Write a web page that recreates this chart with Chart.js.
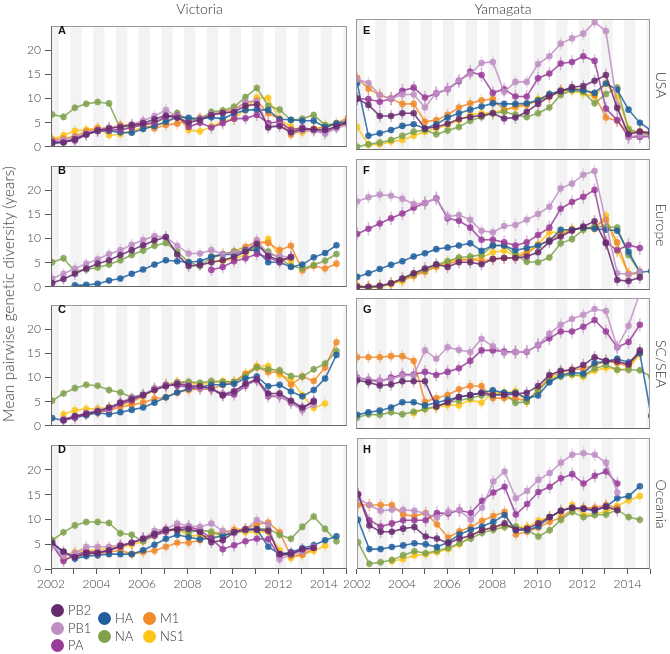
<!DOCTYPE html>
<html>
<head>
<meta charset="utf-8">
<script src="https://cdn.jsdelivr.net/npm/chart.js@4.4.0/dist/chart.umd.min.js"></script>
<style>
  body { margin: 0; background: #fff; font-family: Lato, "Liberation Sans", Arial, sans-serif; font-weight: 300; }
  #wrap { position: relative; width: 670px; height: 654px; overflow: hidden; }
  #wrap canvas { position: absolute; }
  .txt { position: absolute; white-space: nowrap; color: #333; font-weight: 300; }
  .mid { transform: translate(-50%, -50%); }
  .letter { position: absolute; font-family: "Liberation Sans", Arial, sans-serif; font-weight: bold; font-size: 11px; color: #111; }
  .lg { position: absolute; font-size: 13px; color: #333; white-space: nowrap; }
  .lg i { position: absolute; width: 13px; height: 13px; border-radius: 50%; left: -6.5px; top: -6.5px; }
  .lg span { position: absolute; left: 11px; top: -8px; }
</style>
</head>
<body>
<div id="wrap"></div>
<script>
// time points (half-yearly) + one point past the right edge
const XS = [2002.05, 2002.55, 2003.05, 2003.55, 2004.05, 2004.55, 2005.05, 2005.55, 2006.05,
  2006.55, 2007.05, 2007.55, 2008.05, 2008.55, 2009.05, 2009.55, 2010.05, 2010.55, 2011.05,
  2011.55, 2012.05, 2012.55, 2013.05, 2013.55, 2014.05, 2014.55, 2015.05];

const SEGMENTS = ['PB2', 'PB1', 'PA', 'HA', 'NA', 'M1', 'NS1'];
const COLORS = ['#672a6e', '#bf8fc4', '#993d9a', '#21609e', '#80a24d', '#f08a2a', '#fcc419'];
const ERR = [1.2, 1.2, 1.3, 0.6, 0.8, 1.2, 1.2];

const LINEAGES = ['Victoria', 'Yamagata'];
const REGIONS = ['USA', 'Europe', 'SC/SEA', 'Oceania'];
const YEAR_TICKS = [2002, 2004, 2006, 2008, 2010, 2012, 2014];

// Victoria - USA
const A_PB2 = [1.0, 0.9, 1.6, 2.6, 3.4, 3.8, 4.1, 4.5, 4.9, 5.7, 6.5, 6.0, 5.0, 5.6, 6.6, 7.0, 7.2, 8.5, 8.8, 4.0, 4.3, 3.0, 3.7, 3.6, 3.5, 4.2, 5.0];
const A_PB1 = [1.2, 1.4, 1.9, 2.8, 3.5, 4.0, 4.2, 4.6, 5.4, 6.4, 7.6, 6.3, 5.0, 5.8, 6.8, 7.0, 7.4, 9.3, 9.5, 4.3, 4.5, 3.0, 3.4, 3.3, 2.7, 3.8, 4.6];
const A_PA  = [0.9, 1.0, 1.3, 2.5, 3.3, 3.5, 3.5, 4.0, 4.7, 5.0, 6.2, 6.5, 4.1, 5.0, 4.0, 4.9, 5.8, 5.9, 6.6, 4.9, 5.2, 3.5, 4.0, 3.5, 3.0, 4.2, 5.2];
const A_HA  = [0.6, 1.0, 1.5, 2.6, 3.3, 3.3, 3.0, 2.9, 3.7, 4.3, 5.2, 6.2, 6.0, 5.8, 6.1, 5.8, 6.9, 7.6, 7.7, 7.6, 5.7, 5.6, 5.4, 5.4, 4.1, 4.8, 5.3];
const A_NA  = [6.7, 6.2, 8.1, 8.9, 9.3, 9.0, 3.7, 4.0, 4.5, 5.0, 6.0, 7.0, 5.5, 5.8, 7.2, 7.5, 8.3, 10.3, 12.2, 8.5, 7.7, 5.5, 5.8, 6.6, 4.5, 4.8, 5.0];
const A_M1  = [1.5, 1.7, 2.2, 3.2, 3.8, 3.9, 4.5, 4.5, 4.4, 3.8, 4.5, 4.8, 5.5, 6.0, 6.8, 7.2, 7.8, 9.2, 9.6, 6.9, 5.8, 2.5, 3.4, 3.8, 4.0, 4.9, 6.0];
const A_NS1 = [1.5, 2.4, 3.3, 3.5, 4.0, 2.4, 2.6, 3.3, 4.0, 4.4, 5.0, 6.3, 3.5, 3.2, 4.2, 5.3, 5.8, 7.8, 10.2, 10.1, 5.5, 4.2, 3.0, 3.5, 4.5, 4.5, 4.6];

// Victoria - Europe
const B_PB2 = [0.8, 1.6, 2.7, 3.8, 4.8, 5.5, 6.6, 7.6, 8.6, 9.6, 10.3, 6.7, 4.3, 4.5, 5.1, 5.5, 6.2, 7.3, 8.9, 6.4, 5.5, 6.1];
const B_PB1 = [1.7, 2.7, 3.8, 4.8, 5.7, 6.8, 7.6, 8.7, 9.7, 10.5, 10.3, 8.5, 6.9, 6.9, 7.6, 6.8, 7.0, 7.3, 9.7, 6.7, 6.4, 6.1];
const B_PA  = [null, null, null, null, null, null, null, null, null, null, null, null, null, null, 3.5, 4.1, 5.3, 5.9, 6.8, 6.1, 5.1, 6.2];
const B_HA  = [null, null, 0.3, 0.4, 0.6, 1.3, 1.7, 2.7, 3.6, 4.6, 5.5, 5.3, 5.1, 5.3, 6.2, 6.7, 6.7, 7.6, 7.6, 5.1, 5.1, 4.1, 4.6, 6.1, 7.0, 8.6];
const B_NA  = [5.1, 5.9, 3.2, 3.6, 4.0, 4.6, 5.5, 6.6, 7.5, 8.5, 9.1, 7.3, 5.1, 4.3, 6.1, 6.7, 7.3, 7.3, 8.5, 7.3, 5.9, 4.3, 3.8, 4.5, 5.4, 6.8];
const B_M1  = [null, null, null, null, null, null, null, null, null, null, null, null, null, null, 6.2, 6.8, 7.3, 8.3, 9.4, 9.1, 7.6, 8.5, 3.4, 4.3, 3.8, 4.8];
const B_NS1 = [null, null, null, null, null, null, null, null, null, null, null, null, null, null, 5.3, 5.4, 5.7, 6.7, 8.3, 9.9, 6.1, 5.4];

// Victoria - SC/SEA
const C_PB2 = [null, 1.2, 2.0, 2.5, 3.0, 3.8, 4.8, 5.6, 6.4, 7.4, 8.2, 8.7, 8.3, 8.2, 7.8, 6.4, 7.1, 8.7, 9.6, 6.7, 6.7, 5.2, 3.8, 5.0];
const C_PB1 = [null, 1.4, 2.0, 2.7, 3.2, 3.5, 4.8, 5.9, 6.5, 7.7, 8.3, 8.9, 8.5, 7.8, 7.6, 6.7, 7.2, 8.5, 9.3, 6.4, 6.1, 4.8, 3.2, 4.3];
const C_PA  = [null, 1.2, 1.7, 2.5, 3.0, 3.3, 4.6, 5.2, 6.3, 7.7, 8.5, 8.3, 8.0, 7.8, 7.6, 6.3, 6.5, 8.3, 9.6, 6.1, 6.1, 4.8, 3.5, 5.2];
const C_HA  = [1.6, 1.1, 1.7, 2.2, 2.7, 2.4, 2.8, 3.3, 3.8, 4.8, 5.9, 6.9, 7.7, 8.0, 8.5, 8.5, 8.7, 9.8, 10.2, 8.2, 8.5, 7.1, 6.1, 7.4, 9.8, 14.7];
const C_NA  = [5.2, 6.7, 7.8, 8.5, 8.3, 7.4, 6.9, 5.9, 6.5, 7.6, 8.3, 9.0, 9.1, 8.9, 9.3, 9.1, 9.1, 10.3, 12.1, 11.7, 11.5, 10.3, 10.2, 11.7, 12.9, 15.5];
const C_M1  = [null, 1.4, 1.9, 2.4, 2.8, 3.2, 3.9, 4.3, 4.8, 5.6, 5.9, 6.9, 7.4, 7.7, 7.6, 8.5, 9.1, 10.8, 12.2, 11.1, 11.1, 8.5, 10.2, 9.3, 12.1, 17.3];
const C_NS1 = [null, 2.4, 3.2, 3.5, 3.5, 3.8, 4.3, 4.8, 6.1, 7.4, 8.5, 9.1, 8.9, 8.5, 8.9, 9.3, 9.1, 10.8, 12.4, 12.4, 10.6, 9.6, 6.4, 3.7, 4.6];

// Victoria - Oceania
const D_PB2 = [5.3, 3.5, 2.4, 3.2, 3.2, 3.8, 4.7, 5.3, 6.1, 7.1, 7.9, 7.9, 8.1, 7.4, 5.4, 5.8, 7.4, 8.0, 8.0, 7.7, 3.0, 3.0, 4.0, 4.3];
const D_PB1 = [4.8, 2.6, 3.2, 4.5, 4.5, 4.5, 4.9, 5.3, 6.2, 7.7, 8.1, 9.2, 8.7, 8.5, 9.2, 7.7, 7.2, 8.0, 9.9, 9.0, 1.9, 2.9, 3.5, 4.5];
const D_PA  = [4.9, 1.6, 2.9, 3.5, 3.4, 3.8, 4.5, 5.3, 6.1, 6.7, 7.5, 8.3, 8.5, 7.9, 6.1, 4.0, 4.8, 5.6, 6.1, 6.0, 2.6, 3.2, 3.8, 4.3];
const D_HA  = [5.1, 3.4, 2.1, 2.6, 2.8, 3.0, 3.0, 3.0, 3.8, 4.9, 6.1, 6.9, 6.4, 6.0, 6.2, 6.7, 7.4, 7.9, 8.0, 4.5, 3.0, 3.4, 4.2, 4.8, 5.8, 6.6];
const D_NA  = [5.8, 7.4, 8.8, 9.5, 9.5, 9.3, 7.2, 6.9, 5.6, 6.7, 7.9, 8.1, 7.4, 7.9, 7.5, 6.7, 7.4, 7.9, 8.1, 8.1, 6.9, 6.1, 8.5, 10.6, 8.1, 5.6];
const D_M1  = [null, 1.9, 2.6, 3.0, 3.2, 3.4, 3.8, 3.0, 3.4, 3.7, 4.5, 5.3, 5.3, 5.8, 7.1, 7.4, 7.9, 8.1, 9.0, 9.4, 7.4, 2.6, 2.9, 4.2];
const D_NS1 = [null, 2.8, 3.4, 3.8, 3.8, 4.3, 4.3, 4.9, 5.6, 6.9, 7.7, 7.9, 6.7, 6.7, 6.4, 6.7, 7.5, 7.4, 7.5, 7.5, 3.8, 2.2, 2.9, 3.7, 4.7];

// Yamagata - USA
const E_PB2 = [9.8, 8.6, 6.5, 6.5, 7.0, 7.0, 4.1, 4.4, 5.0, 5.9, 6.3, 6.6, 7.0, 6.0, 6.2, 7.3, 8.8, 10.2, 11.2, 12.0, 12.2, 13.2, 14.3, 8.0, 3.0, 3.5, 3.2];
const E_PB1 = [13.5, 12.8, 10.5, 9.8, 10.6, 10.6, 8.1, 10.9, 11.6, 13.3, 14.5, 16.6, 16.8, 11.1, 13.0, 13.0, 16.4, 17.9, 20.3, 21.3, 22.2, 24.4, 22.7, 8.5, 2.5, 2.8, 2.8];
const E_PA  = [9.8, 9.7, 9.2, 9.8, 11.3, 11.9, 10.0, 10.8, 11.6, 13.1, 14.9, 14.3, 10.9, 11.6, 10.2, 10.2, 13.7, 14.6, 16.5, 16.8, 17.9, 17.0, 7.9, 5.7, 2.5, 2.5, 2.6];
const E_HA  = [12.8, 2.7, 3.2, 3.8, 4.6, 4.9, 4.1, 4.9, 6.2, 7.0, 7.7, 8.3, 8.9, 8.8, 8.8, 8.9, 9.5, 10.7, 11.3, 11.6, 11.4, 10.9, 12.7, 11.5, 7.7, 5.2, 3.7];
const E_NA  = [0.6, 1.1, 1.4, 1.9, 2.7, 3.5, 3.8, 3.0, 3.7, 4.4, 5.6, 6.3, 7.0, 7.3, 6.7, 6.3, 7.0, 8.1, 10.5, 11.4, 11.1, 8.9, 10.7, 11.9, 3.9, 3.2, 3.0];
const E_M1  = [13.8, 11.7, 10.5, 9.8, 8.8, 8.8, 5.4, 5.7, 6.7, 8.1, 8.9, 9.5, 9.7, 7.6, 8.3, 8.7, 9.4, 10.2, 11.4, 11.7, 11.6, 10.5, 6.2, 5.6, 3.2, 3.5, 3.4];
const E_NS1 = [4.4, 1.0, 1.1, 1.6, 1.9, 2.7, 3.5, 4.1, 4.8, 5.7, 6.7, 7.0, 7.1, 7.7, 8.1, 8.6, 9.7, 10.5, 11.1, 11.3, 10.8, 10.2, 12.7, 10.2, 4.1, 3.2, 3.0];

// Yamagata - Europe
const F_PB2 = [0.6, 0.6, 0.8, 1.3, 2.2, 3.2, 4.1, 4.9, 4.4, 5.3, 5.3, 4.9, 5.9, 6.1, 6.1, 6.4, 7.2, 9.2, 10.2, 11.3, 12.1, 13.1, 8.9, 1.9, 1.7, 2.4];
const F_PB1 = [16.9, 17.7, 18.2, 18.0, 17.4, 16.4, 16.6, 17.5, 14.0, 14.3, 13.4, 11.3, 11.0, 12.2, 12.4, 13.4, 14.5, 15.9, 19.4, 20.3, 22.0, 22.7, null, 3.2, 3.0, 3.5];
const F_PA  = [10.7, 11.7, 12.7, 13.7, 14.6, 15.7, 16.6, 17.5, 13.7, 13.2, 11.9, 9.6, 9.6, 9.1, 8.5, 9.1, 10.5, 11.9, 15.5, 16.8, 17.8, 19.1, 9.1, 7.6, 8.6, 8.0];
const F_HA  = [2.5, 3.2, 4.0, 4.8, 5.5, 6.4, 7.0, 7.8, 8.1, 8.5, 8.9, 7.5, 8.5, 8.5, 7.6, 8.0, 8.5, 9.4, 11.5, 11.5, 11.9, 11.7, 11.5, 11.3, 7.3, 3.4, 3.6];
const F_NA  = [0.6, 0.5, 0.6, 1.3, 2.1, 3.0, 3.8, 4.8, 5.5, 6.2, 6.4, 6.7, 8.5, 8.5, 6.7, 5.4, 5.3, 6.2, 8.9, 9.7, 11.5, 12.1, 12.1, 11.9, 6.7, 3.4];
const F_M1  = [0.8, 0.6, 0.6, 1.3, 1.9, 2.7, 3.5, 4.5, 4.9, 5.7, 5.9, 5.5, 5.9, 6.1, 6.2, 7.0, 8.5, 9.6, 10.6, 11.5, 11.8, 12.1, 13.4, 9.1, 3.0, 3.2];
const F_NS1 = [0.6, 0.4, 0.6, 1.1, 1.7, 2.7, 3.6, 4.5, 5.4, 5.9, 5.7, 6.2, 7.2, 7.5, 6.6, 7.3, 8.7, 11.0, 11.0, 11.7, 11.7, 11.7, 14.2, 7.5, 3.2, 3.4];

// Yamagata - SC/SEA
const G_PB2 = [9.3, 8.9, 8.3, 8.5, 9.1, 9.1, 9.1, 4.3, 5.1, 6.1, 6.5, 6.9, 6.5, 6.5, 6.7, 6.9, 8.2, 10.3, 11.1, 11.3, 12.2, 13.7, 13.0, 12.9, 12.3, 15.0];
const G_PB1 = [9.8, 9.5, 9.3, 9.5, 10.2, 10.2, 15.0, 13.4, 15.6, 15.1, 14.7, 17.2, 15.8, 14.5, 14.7, 14.8, 16.0, 18.2, 19.9, 21.0, 21.8, 22.9, 22.5, 15.6, 19.7, 26.0];
const G_PA  = [9.8, 9.3, 9.1, 9.8, 10.4, 10.4, 10.9, 10.3, 10.9, 11.6, 13.0, 15.0, 15.0, 14.8, 14.7, 14.7, 16.0, 17.3, 18.6, 18.6, 19.5, 20.8, 18.6, 15.6, 16.6, 19.9];
const G_HA  = [2.7, 3.2, 3.5, 4.1, 5.1, 5.1, 4.5, 5.0, 5.6, 6.1, 6.5, 6.9, 7.4, 6.9, 6.9, 5.9, 6.4, 8.9, 10.2, 10.8, 10.6, 12.6, 12.9, 13.4, 12.7, 14.5, 2.5];
const G_NA  = [2.2, 2.8, 2.7, 3.2, 2.8, 3.3, 3.8, 4.3, 5.0, 5.4, 5.9, 6.4, 6.4, 6.9, 5.0, 5.2, 7.4, 9.3, 10.0, 10.4, 10.2, 11.5, 12.2, 11.3, 11.3, 11.2, 10.0];
const G_M1  = [13.7, 13.7, 13.7, 13.9, 13.9, 13.0, 5.2, 5.9, 6.5, 7.6, 8.2, 8.2, 5.9, 5.9, 5.8, 5.4, 7.4, 10.0, 10.8, 11.3, 11.5, 12.2, 12.9, 12.6, 12.0, 14.5];
const G_NS1 = [null, null, null, null, null, 3.0, 3.8, 4.1, 4.6, 4.5, 5.6, 5.0, 6.9, 6.9, 7.2, 5.2, 7.4, 9.6, 10.4, 10.3, 10.0, 11.1, 11.7, 11.3, 11.5, 14.3];

// Yamagata - Oceania
const H_PB2 = [14.3, 8.3, 7.1, 7.1, 7.7, 8.0, 6.2, 5.8, 4.9, 5.8, 6.4, 7.4, 7.9, 8.7, 7.5, 7.7, 8.7, 9.9, 11.1, 11.7, 11.5, 11.3, 11.9, 11.2];
const H_PB1 = [13.5, 12.2, 11.1, 11.3, 11.3, 11.1, 10.6, 9.8, 10.9, 11.2, 9.4, 11.7, 16.7, 18.6, 13.5, 14.9, 17.0, 18.3, 20.3, 21.8, 22.1, 21.8, 20.3, 14.6];
const H_PA  = [14.1, 9.3, 8.1, 8.7, 9.3, 9.3, 9.3, 10.7, 10.6, 11.2, 10.7, 13.0, 14.6, 15.7, 10.4, 12.4, 14.7, 15.7, 17.3, 18.1, 16.3, 17.8, 18.6, 16.3];
const H_HA  = [9.4, 3.8, 3.8, 4.2, 4.5, 4.9, 4.7, 4.2, 5.1, 6.6, 7.5, 8.1, 9.0, 10.3, 7.4, 7.4, 8.1, 9.9, 11.1, 11.7, 11.5, 11.1, 11.9, 13.5, 13.9, 15.8];
const H_NA  = [5.1, 1.0, 1.3, 1.7, 2.6, 3.4, 3.0, 3.5, 4.0, 4.9, 5.8, 6.9, 7.5, 8.0, 8.1, 7.5, 6.2, 7.4, 9.4, 10.9, 9.9, 10.3, 10.4, 11.3, 9.9, 9.4];
const H_M1  = [12.2, 12.2, 12.2, 12.2, 10.4, 10.1, 10.7, 8.5, 6.0, 7.2, 8.0, 9.2, 10.1, 10.9, 6.6, 7.1, 7.9, 9.0, 9.8, 11.3, 11.7, 11.7, 12.2, 11.7];
const H_NS1 = [null, null, null, 1.5, 1.9, 2.6, 2.8, 3.2, 3.8, 4.7, 6.4, 7.4, 8.0, 8.3, 8.0, 8.0, 9.2, 9.9, 10.9, 12.2, 10.3, 10.6, 10.9, 12.0, 13.1, 13.9];

const PANELS = [
  { letter: 'A', row: 0, col: 0, series: [A_PB2, A_PB1, A_PA, A_HA, A_NA, A_M1, A_NS1] },
  { letter: 'B', row: 1, col: 0, series: [B_PB2, B_PB1, B_PA, B_HA, B_NA, B_M1, B_NS1] },
  { letter: 'C', row: 2, col: 0, series: [C_PB2, C_PB1, C_PA, C_HA, C_NA, C_M1, C_NS1] },
  { letter: 'D', row: 3, col: 0, series: [D_PB2, D_PB1, D_PA, D_HA, D_NA, D_M1, D_NS1] },
  { letter: 'E', row: 0, col: 1, series: [E_PB2, E_PB1, E_PA, E_HA, E_NA, E_M1, E_NS1] },
  { letter: 'F', row: 1, col: 1, series: [F_PB2, F_PB1, F_PA, F_HA, F_NA, F_M1, F_NS1] },
  { letter: 'G', row: 2, col: 1, series: [G_PB2, G_PB1, G_PA, G_HA, G_NA, G_M1, G_NS1] },
  { letter: 'H', row: 3, col: 1, series: [H_PB2, H_PB1, H_PA, H_HA, H_NA, H_M1, H_NS1] }
];

// layout
const ROW_TOP = [19, 159, 298, 438];
const PANEL_H = 131;
const COL_LEFT = [51, 356];
const COL_RIGHT = [348, 650];
const FONT = { family: 'Lato, "Liberation Sans", Arial, sans-serif', size: 12, weight: '300' };

function rgba(hex, a) {
  const n = parseInt(hex.slice(1), 16);
  return `rgba(${(n >> 16) & 255},${(n >> 8) & 255},${n & 255},${a})`;
}

const wrap = document.getElementById('wrap');

function addText(html, cls, style) {
  const d = document.createElement('div');
  d.className = cls;
  d.innerHTML = html;
  Object.assign(d.style, style);
  wrap.appendChild(d);
  return d;
}

// bands, error bars and frame
const panelDeco = {
  id: 'panelDeco',
  beforeDatasetsDraw(chart) {
    const { ctx, chartArea: a, scales: { x, y } } = chart;
    ctx.save();
    ctx.beginPath();
    ctx.rect(a.left, a.top, a.width, a.height);
    ctx.clip();
    ctx.fillStyle = '#f3f3f3';
    for (let yr = 2001; yr <= 2015; yr++) {
      const x0 = x.getPixelForValue(yr + 0.85);
      const x1 = x.getPixelForValue(yr + 1.35);
      ctx.fillRect(x0, a.top, x1 - x0, a.height);
    }
    ctx.lineWidth = 1.5;
    chart.data.datasets.forEach((ds, k) => {
      ctx.strokeStyle = rgba(COLORS[k], 0.35);
      const e = ERR[k];
      ds.data.forEach(d => {
        const px = x.getPixelForValue(d.x);
        ctx.beginPath();
        ctx.moveTo(px, y.getPixelForValue(d.y - e));
        ctx.lineTo(px, y.getPixelForValue(d.y + e));
        ctx.stroke();
      });
    });
    ctx.restore();
  },
  afterDraw(chart) {
    const { ctx, chartArea: a } = chart;
    const col = chart.options.plugins.panelDeco.col;
    const l = Math.round(a.left) + 0.5, r = Math.round(a.right) - 0.5;
    const t = Math.round(a.top) + 0.5, b = Math.round(a.bottom) - 0.5;
    ctx.save();
    ctx.lineWidth = 1;
    ctx.strokeStyle = '#9a9a9a';
    ctx.strokeRect(l, t, r - l, b - t);
    ctx.strokeStyle = '#666';
    ctx.beginPath();
    ctx.moveTo(l, b); ctx.lineTo(r, b);
    if (col === 0) { ctx.moveTo(l, t); ctx.lineTo(l, b); }
    ctx.stroke();
    ctx.restore();
  }
};

PANELS.forEach(p => {
  const bottomRow = p.row === 3;
  const padTop = 4;
  const padBottom = bottomRow ? 2 : 8;
  const xH = bottomRow ? 26 : 0;
  const padLeft = p.col === 0 ? 0 : 16;
  const padRight = p.col === 0 ? 2 : 6;
  const left = p.col === 0 ? 0 : COL_LEFT[1] - padLeft;
  const width = p.col === 0 ? COL_RIGHT[0] + padRight : COL_RIGHT[1] - left + padRight;
  const top = ROW_TOP[p.row] - padTop;
  const height = padTop + PANEL_H + xH + padBottom;

  const cv = document.createElement('canvas');
  cv.width = width;
  cv.height = height;
  cv.style.left = left + 'px';
  cv.style.top = top + 'px';
  cv.style.width = width + 'px';
  cv.style.height = height + 'px';
  wrap.appendChild(cv);

  const datasets = SEGMENTS.map((name, k) => ({
    label: name,
    data: XS.map((x, i) => ({ x: x, y: p.series[k][i] }))
      .filter(d => d.y !== undefined && d.y !== null),
    borderColor: rgba(COLORS[k], 0.85),
    backgroundColor: rgba(COLORS[k], 0.85),
    borderWidth: 1.6,
    pointRadius: 3.3,
    pointHoverRadius: 3.3,
    pointBorderWidth: 0,
    pointBackgroundColor: rgba(COLORS[k], 0.85),
    tension: 0,
    spanGaps: true
  }));

  const yAxis = {
    min: 0,
    max: 25,
    display: p.col === 0,
    afterBuildTicks: s => { s.ticks = s.ticks.filter(t => t.value <= 20); },
    border: { display: false },
    grid: { drawOnChartArea: false, tickLength: 6, color: '#555' },
    ticks: { stepSize: 5, padding: 4, color: '#444', font: FONT }
  };
  if (p.col === 0) yAxis.afterFit = s => { s.width = COL_LEFT[0]; };

  new Chart(cv, {
    type: 'line',
    data: { datasets: datasets },
    options: {
      responsive: false,
      animation: false,
      events: [],
      layout: { padding: { top: padTop, bottom: padBottom, left: padLeft, right: padRight } },
      plugins: {
        legend: { display: false },
        tooltip: { enabled: false },
        panelDeco: { col: p.col }
      },
      scales: {
        x: {
          type: 'linear',
          min: 2002,
          max: 2015,
          display: bottomRow,
          afterFit: s => { s.height = xH; },
          border: { display: false },
          grid: { drawOnChartArea: false, drawTicks: true, tickLength: 5, color: '#555' },
          ticks: {
            stepSize: 1,
            autoSkip: false,
            maxRotation: 0,
            padding: 3,
            color: '#444',
            font: FONT,
            callback: v => YEAR_TICKS.includes(v) ? String(v) : ''
          }
        },
        y: yAxis
      }
    },
    plugins: [panelDeco]
  });

  addText(p.letter, 'letter', {
    left: (COL_LEFT[p.col] + 7) + 'px',
    top: (ROW_TOP[p.row] + 5) + 'px'
  });
});

// column titles
LINEAGES.forEach((name, c) => {
  addText(name, 'txt mid', {
    left: ((COL_LEFT[c] + COL_RIGHT[c]) / 2) + 'px',
    top: '8px',
    fontSize: '14px'
  });
});

// row labels on the right
REGIONS.forEach((name, r) => {
  addText(name, 'txt mid', {
    left: '661px',
    top: (ROW_TOP[r] + PANEL_H / 2) + 'px',
    fontSize: '14px',
    transform: 'translate(-50%, -50%) rotate(90deg)'
  });
});

// y axis title
addText('Mean pairwise genetic diversity (years)', 'txt mid', {
  left: '8px',
  top: '294px',
  fontSize: '15px',
  letterSpacing: '0.2px',
  transform: 'translate(-50%, -50%) rotate(-90deg)'
});

// legend
const LEGEND_POS = [[57, 610], [57, 628], [57, 645], [104, 618], [104, 636], [149, 618], [149, 636]];
SEGMENTS.forEach((name, k) => {
  addText(`<i style="background:${COLORS[k]}"></i><span>${name}</span>`, 'lg', {
    left: LEGEND_POS[k][0] + 'px',
    top: LEGEND_POS[k][1] + 'px'
  });
});
</script>
</body>
</html>
